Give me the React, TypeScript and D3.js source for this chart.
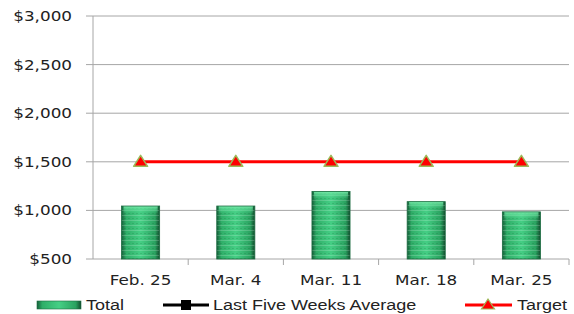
import * as d3 from 'd3';

// weekly values
const categories = ['Feb. 25', 'Mar. 4', 'Mar. 11', 'Mar. 18', 'Mar. 25'];
const totals = [1045, 1045, 1195, 1090, 985];
const fiveWeekAverage: number[] = []; // legend only, no line shown
const target = [1500, 1500, 1500, 1500, 1500];
const yTicks = [500, 1000, 1500, 2000, 2500, 3000];

const width = 574;
const height = 314;
const plot = { left: 93, right: 569, top: 16, bottom: 259 };
const SX = 1.2; // the original is stretched horizontally

const fmt = (v: number) => '$' + d3.format(',')(v);

export default function App() {
  const x = d3.scaleBand<string>().domain(categories).range([plot.left, plot.right]).paddingInner(0.6).paddingOuter(0.3);
  const y = d3.scaleLinear().domain([500, 3000]).range([plot.bottom, plot.top]);
  const step = x.step();
  const cx = (c: string) => (x(c) ?? 0) + x.bandwidth() / 2;

  const line = d3.line<number>().x((_, i) => cx(categories[i])).y((d) => y(d));
  const tri = (px: number, py: number, w = 14, h = 11) =>
    `M${px},${py - h / 2 - 1}L${px + w / 2},${py + h / 2 - 1}L${px - w / 2},${py + h / 2 - 1}Z`;

  const txt = (s: string, tx: number, ty: number, anchor: string, size: number, family: string) => (
    <text transform={`translate(${tx},${ty}) scale(${SX},1)`} textAnchor={anchor} fontSize={size} fontFamily={family} fill="#222">
      {s}
    </text>
  );

  const ly = 305; // legend row centre

  return (
    <svg width={width} height={height} style={{ position: 'absolute', left: 0, top: 0, background: '#fff' }}>
      <defs>
        <linearGradient id="barG" x1="0" x2="1" y1="0" y2="0">
          <stop offset="0" stopColor="#15603a" />
          <stop offset="0.12" stopColor="#2fae68" />
          <stop offset="0.5" stopColor="#45cf85" />
          <stop offset="0.88" stopColor="#2aa260" />
          <stop offset="1" stopColor="#124d2e" />
        </linearGradient>
        <linearGradient id="barTop" x1="0" x2="0" y1="0" y2="1">
          <stop offset="0" stopColor="#7ff0b0" stopOpacity="0.9" />
          <stop offset="1" stopColor="#45cf85" stopOpacity="0" />
        </linearGradient>
        <pattern id="barTex" width="4" height="5" patternUnits="userSpaceOnUse">
          <rect width="4" height="1" fill="#ffffff" opacity="0.18" />
          <rect y="3" width="2" height="1" fill="#0b4024" opacity="0.15" />
        </pattern>
      </defs>

      {/* gridlines + y labels */}
      {yTicks.map((t) => (
        <g key={t}>
          <line x1={plot.left - 7} x2={plot.right} y1={y(t)} y2={y(t)} stroke="#a6a6a6" strokeWidth={1} />
          {txt(fmt(t), 72, y(t) + 5, 'end', 14, 'DejaVu Sans')}
        </g>
      ))}
      <line x1={plot.left} x2={plot.left} y1={plot.top} y2={plot.bottom} stroke="#a6a6a6" />
      {categories.map((c, i) => (
        <line key={c} x1={plot.left + step * (i + 1)} x2={plot.left + step * (i + 1)} y1={plot.bottom} y2={plot.bottom + 6} stroke="#a6a6a6" />
      ))}

      {/* bars */}
      {totals.map((v, i) => {
        const bx = x(categories[i]) ?? 0;
        const bw = x.bandwidth();
        const by = y(v);
        const bh = plot.bottom - by;
        return (
          <g key={i}>
            <rect x={bx} y={by} width={bw} height={bh} fill="url(#barG)" />
            <rect x={bx} y={by} width={bw} height={bh} fill="url(#barTex)" />
            <rect x={bx + 2} y={by} width={bw - 4} height={8} fill="url(#barTop)" />
            <rect x={bx} y={by} width={bw} height={bh} fill="none" stroke="#1b6b40" strokeWidth={0.8} />
          </g>
        );
      })}

      {/* x labels */}
      {categories.map((c) => (
        <g key={c}>{txt(c, cx(c), 285, 'middle', 14, 'DejaVu Sans')}</g>
      ))}

      {/* average line (no values shown) */}
      {fiveWeekAverage.length > 0 && <path d={line(fiveWeekAverage) ?? ''} fill="none" stroke="#000" strokeWidth={3} />}

      {/* target */}
      <path d={line(target) ?? ''} fill="none" stroke="#ff0000" strokeWidth={3} />
      {target.map((v, i) => (
        <path key={i} d={tri(cx(categories[i]), y(v))} fill="#ff0000" stroke="#9bbb59" strokeWidth={1.5} strokeLinejoin="round" />
      ))}

      {/* legend */}
      <rect x={37} y={ly - 4} width={44} height={8} fill="url(#barG)" stroke="#1b6b40" strokeWidth={0.6} />
      {txt('Total', 86, ly + 5, 'start', 15, 'Liberation Sans')}
      <line x1={163} x2={209} y1={ly} y2={ly} stroke="#000" strokeWidth={3} />
      <rect x={181} y={ly - 5} width={10} height={10} fill="#000" />
      {txt('Last Five Weeks Average', 213, ly + 5, 'start', 15, 'Liberation Sans')}
      <line x1={465} x2={512} y1={ly} y2={ly} stroke="#ff0000" strokeWidth={3} />
      <path d={tri(488, ly, 13, 10)} fill="#ff0000" stroke="#9bbb59" strokeWidth={1.2} />
      {txt('Target', 517, ly + 5, 'start', 15, 'Liberation Sans')}
    </svg>
  );
}
